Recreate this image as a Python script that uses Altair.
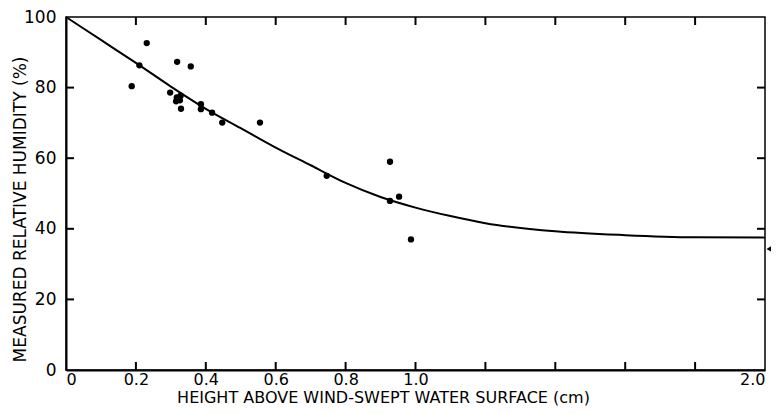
import altair as alt
import pandas as pd

# measured points (height cm, relative humidity %)
pt_x = [0.188, 0.210, 0.231, 0.298, 0.318, 0.357, 0.317, 0.328, 0.315, 0.326,
        0.329, 0.386, 0.386, 0.418, 0.447, 0.555, 0.746, 0.927, 0.927, 0.953, 0.987]
pt_y = [80.4, 86.3, 92.6, 78.6, 87.3, 86.0, 77.2, 77.7, 76.1, 76.4,
        74.0, 75.3, 73.9, 72.9, 70.1, 70.1, 55.0, 59.0, 47.9, 49.1, 37.0]

# fitted curve
curve_x = [0.0, 0.1, 0.2, 0.3, 0.4, 0.5, 0.6, 0.7, 0.8, 0.9, 1.0, 1.1, 1.2, 1.4, 1.6, 1.8, 2.0]
curve_y = [100.0, 93.5, 87.0, 80.3, 74.0, 68.5, 63.0, 58.0, 53.0, 49.0, 46.0, 43.6, 41.6, 39.3, 38.2, 37.6, 37.5]

# arrow marker on the right edge
arrow_x = [2.011]
arrow_x2 = [2.017]
arrow_y = [34.3]

x_domain = [0, 2]
y_domain = [0, 100]
x_labels = [0, 0.2, 0.4, 0.6, 0.8, 1.0, 2.0]
x_ticks = [0.2, 0.4, 0.6, 0.8, 1.0, 1.2, 1.4, 1.6, 1.8]
y_labels = [0, 20, 40, 60, 80, 100]
y_ticks = [20, 40, 60, 80]

W, H = 699, 353
FONT = "DejaVu Sans"
TICK = 8
TW = 2

pts = pd.DataFrame({"x": pt_x, "y": pt_y})
crv = pd.DataFrame({"x": curve_x, "y": curve_y})
arr = pd.DataFrame({"x": arrow_x, "x2": arrow_x2, "y": arrow_y})
xt = pd.DataFrame({"v": x_ticks})
yt = pd.DataFrame({"v": y_ticks})

xs = alt.Scale(domain=x_domain, nice=False, zero=False)
ys = alt.Scale(domain=y_domain, nice=False, zero=False)

main_x = alt.Axis(values=x_labels, ticks=False, grid=False, domainColor="black", domainWidth=2,
                  labelFont=FONT, labelFontSize=16, labelColor="black", labelPadding=1,
                  labelExpr="datum.value == 0 ? '0' : format(datum.value, '.1f')",
                  title="HEIGHT ABOVE WIND-SWEPT WATER SURFACE (cm)",
                  titleFont=FONT, titleFontSize=16, titleFontWeight="normal", titleColor="black",
                  titleX=317, titleY=19, titleAlign="center", titleBaseline="top")
main_y = alt.Axis(values=y_labels, ticks=False, grid=False, domainColor="black", domainWidth=2,
                  labelFont=FONT, labelFontSize=17, labelColor="black", labelPadding=10,
                  title="MEASURED RELATIVE HUMIDITY (%)",
                  titleFont=FONT, titleFontSize=17, titleFontWeight="normal", titleColor="black",
                  titleX=-41, titleY=192, titleAlign="center", titleBaseline="alphabetic", titleAngle=270)

points = alt.Chart(pts).mark_circle(size=40, color="black", opacity=1).encode(
    x=alt.X("x:Q", scale=xs, axis=main_x),
    y=alt.Y("y:Q", scale=ys, axis=main_y),
)

line = alt.Chart(crv).mark_line(color="black", strokeWidth=2, interpolate="monotone").encode(
    x=alt.X("x:Q", scale=xs),
    y=alt.Y("y:Q", scale=ys),
)

# inward ticks on all four edges
def edge_ticks(df, orient, off, x_enc, y_enc):
    kw = {"xOffset": off} if orient == "horizontal" else {"yOffset": off}
    return alt.Chart(df).mark_tick(orient=orient, size=TICK, thickness=TW, opacity=1,
                                   color="#000000", **kw).encode(x=x_enc, y=y_enc)

tick_left = edge_ticks(yt, "horizontal", TICK / 2,
                       alt.X(datum=x_domain[0], scale=xs), alt.Y("v:Q", scale=ys))
tick_right = edge_ticks(yt, "horizontal", -TICK / 2,
                        alt.X(datum=x_domain[1], scale=xs), alt.Y("v:Q", scale=ys))
tick_bottom = edge_ticks(xt, "vertical", -TICK / 2,
                         alt.X("v:Q", scale=xs), alt.Y(datum=y_domain[0], scale=ys))
tick_top = edge_ticks(xt, "vertical", TICK / 2,
                      alt.X("v:Q", scale=xs), alt.Y(datum=y_domain[1], scale=ys))

arrow_line = alt.Chart(arr).mark_rule(color="black", strokeWidth=1.5).encode(
    x=alt.X("x:Q", scale=xs), x2="x2:Q", y=alt.Y("y:Q", scale=ys),
)
arrow_head = alt.Chart(arr).mark_point(shape="triangle-left", filled=True, size=30,
                                        color="black", opacity=1).encode(
    x=alt.X("x:Q", scale=xs), y=alt.Y("y:Q", scale=ys),
)

chart = alt.layer(points, line, tick_left, tick_right, tick_bottom, tick_top,
                  arrow_line, arrow_head).properties(
    width=W, height=H,
    autosize=alt.AutoSizeParams(type="none"),
    padding={"left": 58, "top": 9, "right": 6, "bottom": 36},
    background="white",
).configure_view(stroke="black", strokeWidth=1.5)

chart.save("out.html", embed_options={"renderer": "svg", "actions": False})
